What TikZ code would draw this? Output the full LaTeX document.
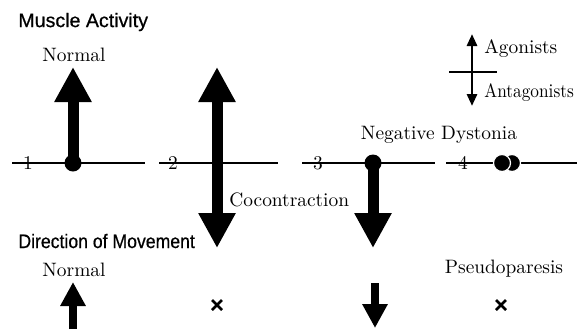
\documentclass[tikz,border=0pt]{standalone}
\usepackage{fontspec}
\usetikzlibrary{arrows.meta}
\newfontfamily\headfont{Liberation Sans}[FakeBold=0.6]

\tikzset{
  heading/.style={font=\headfont\fontsize{9.8}{11}\selectfont, anchor=west, inner sep=0pt},
  caption/.style={font=\fontsize{9.7}{11}\selectfont, inner sep=0pt},
  axisline/.style={line width=1pt},
  muscle/.style={line width=5.5pt, -{Triangle[width=17.5pt,length=17.5pt]}},
  movement/.style={line width=4pt, -{Triangle[width=12pt,length=12pt]}},
  legendarrow/.style={line width=1.4pt, {Triangle[width=5pt,length=6pt]}-{Triangle[width=5pt,length=6pt]}},
  crossmark/.style={line width=1.3pt}
}

\begin{document}
\begin{tikzpicture}[x=0.5pt,y=-0.5pt]
    \useasboundingbox (0,0) rectangle (577,329);
    % Headings
    \node[heading] (muscleact) at (18,22) {Muscle Activity};
    \node[heading] (direction) at (18,241) {\scalebox{0.9}[1]{Direction of Movement}};
    % Legend
    \coordinate (legtop) at (472,34);
    \coordinate (legbot) at (472,106);
    \draw[legendarrow] (legbot) -- (legtop);
    \draw[line width=1.2pt] (449,72) -- (497,72);
    \node[caption, anchor=west] (agon) at (484,49) {Agonists};
    \node[caption, anchor=west] (antag) at (484,93) {\scalebox{0.89}[1]{Antagonists}};
    % Axis lines with numbers
    \draw[axisline] (12,163) -- (145,163);
    \draw[axisline] (159,163) -- (278,163);
    \draw[axisline] (302,163) -- (435,163);
    \draw[axisline] (446,163) -- (577,163);
    \node[caption] (n1) at (28,163) {1};
    \node[caption] (n2) at (173,163) {2};
    \node[caption] (n3) at (318,163) {3};
    \node[caption] (n4) at (463,163) {4};
    % 1 Normal
    \coordinate (c1) at (73,163);
    \coordinate (t1) at (73,67);
    \draw[muscle] (c1) -- (t1);
    \fill (c1) circle (8.5);
    \node[caption] (normtop) at (74,55) {Normal};
    % 2 Cocontraction
    \coordinate (c2) at (217,163);
    \draw[muscle] (c2) -- (217,67);
    \draw[muscle] (c2) -- (217,248);
    \node[caption, anchor=west] (cocon) at (229,200) {Cocontraction};
    % 3 Negative dystonia
    \coordinate (c3) at (373,163);
    \draw[muscle] (c3) -- (373,248);
    \fill (c3) circle (8.5);
    \node[caption] (negdyst) at (439,135) {Negative Dystonia};
    % 4 Pseudoparesis
    \coordinate (c4) at (502,163);
    \fill[draw=white, line width=0.6pt] (512,163) circle (8.5);
    \fill[draw=white, line width=0.6pt] (c4) circle (8.5);
    % Direction of movement
    \node[caption] (normbot) at (74,270) {Normal};
    \draw[movement] (73,329) -- (73,282);
    \draw[movement] (375,283) -- (375,328);
    \draw[crossmark] (212,300) -- (222,310) (212,310) -- (222,300);
    \node[caption] (pseudo) at (504,269) {Pseudoparesis};
    \draw[crossmark] (496,300) -- (506,310) (496,310) -- (506,300);
\end{tikzpicture}
\end{document}
